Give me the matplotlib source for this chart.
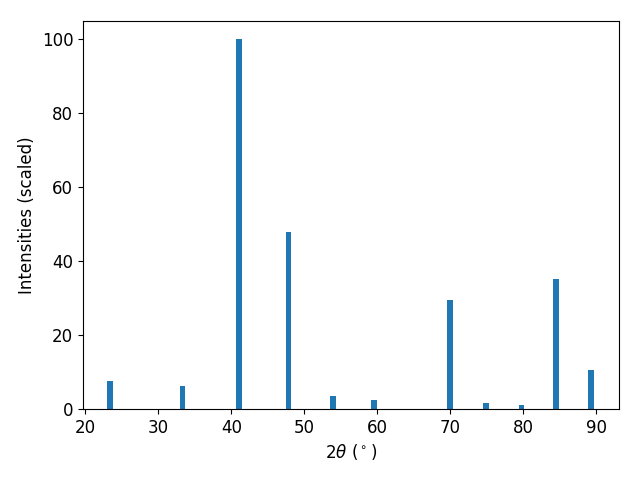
import matplotlib
matplotlib.use("Agg")
import matplotlib.pyplot as plt

two_theta = [23.39, 33.32, 41.11, 47.83, 53.91, 59.55, 69.97, 74.92, 79.73, 84.49, 89.24]
intensity = [7.6, 6.2, 100.0, 48.0, 3.5, 2.4, 29.5, 1.6, 1.1, 35.2, 10.6]

plt.rcParams['font.size'] = 12
fig, ax = plt.subplots(figsize=(6.4, 4.8), dpi=100)
ax.bar(two_theta, intensity, width=0.8, color='#1f77b4')
ax.set_xlim(19.69, 93.09)
ax.set_xlabel(r"$2\theta$ ($^\circ$)")
ax.set_ylabel("Intensities (scaled)")
fig.subplots_adjust(left=83/640, right=619/640, top=1 - 21/480, bottom=1 - 409/480)
fig.savefig("out.png", dpi=100)
